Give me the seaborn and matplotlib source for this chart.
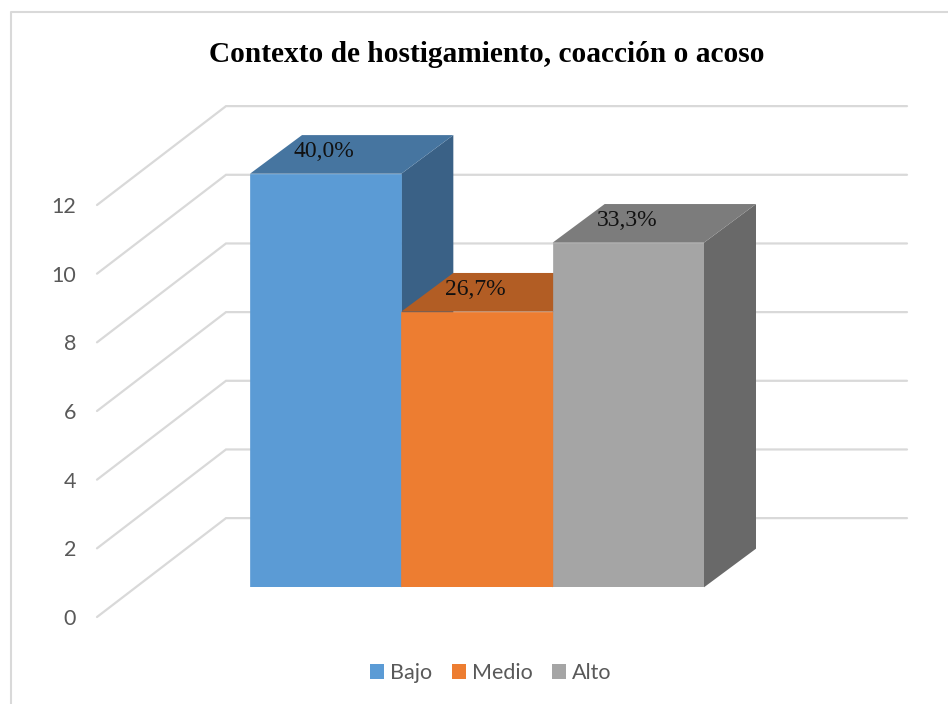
import matplotlib
matplotlib.use("Agg")
import matplotlib.pyplot as plt
from matplotlib.lines import Line2D
from matplotlib.patches import Patch
import seaborn as sns

W, H = 948, 704

title = "Contexto de hostigamiento, coacción o acoso"
categories = ["Bajo", "Medio", "Alto"]
counts = [12, 8, 10]
value_labels = ["40,0%", "26,7%", "33,3%"]
y_ticks = [0, 2, 4, 6, 8, 10, 12]

front_colors = ["#5B9BD5", "#ED7D31", "#A5A5A5"]
top_colors = ["#4675A0", "#B25D24", "#7C7C7C"]
side_colors = ["#3A6186", "#8F4B1D", "#696969"]
grid_color = "#D9D9D9"
text_grey = "#595959"


def box(left, top, right, bottom):
    return [left / W, 1 - bottom / H, (right - left) / W, (bottom - top) / H]


sns.set_theme(style="white")
plt.rcParams["font.family"] = ["Lato", "DejaVu Sans"]

fig = plt.figure(figsize=(W / 100, H / 100), dpi=100, facecolor="white")

# Chart frame (top and left edges are inside the canvas)
fig.add_artist(Line2D([10.5 / W, 10.5 / W, 1.0], [0, 1 - 12 / H, 1 - 12 / H],
                      transform=fig.transFigure, color=grid_color, lw=1.5))

# Wall and floor gridlines, with the value axis
ax_wall = fig.add_axes(box(97, 205, 907, 617))
ax_wall.set_xlim(0, 810)
ax_wall.set_ylim(0, 12)
ax_wall.patch.set_alpha(0)
for v in y_ticks:
    ax_wall.plot([0, 129, 810], [v, v + 2.88, v + 2.88], color=grid_color,
                 lw=1.6, clip_on=False, solid_joinstyle="miter")
ax_wall.set_xticks([])
ax_wall.set_yticks(y_ticks)
ax_wall.tick_params(axis="y", length=0, pad=15, labelsize=15.5, labelcolor=text_grey)
sns.despine(ax=ax_wall, left=True, bottom=True)

# Front faces
ax = fig.add_axes(box(250, 173.7, 704, 587.3))
ax.patch.set_alpha(0)
sns.barplot(x=categories, y=counts, hue=categories, palette=front_colors,
            saturation=1, width=1, legend=False, ax=ax)
ax.set_xlim(-0.5, 2.5)
ax.set_ylim(0, 12)
ax.set_axis_off()

# Oblique depth faces derived from each bar
depth_x = 52 / (454 / 3)
depth_y = 38.6 / (413.6 / 12)
for i, bar in enumerate(ax.patches):
    x0, x1 = bar.get_x(), bar.get_x() + bar.get_width()
    h = bar.get_height()
    z = 3 + i
    bar.set_zorder(z + 0.5)
    bar.set_edgecolor(front_colors[i])
    bar.set_linewidth(0.5)
    ax.fill([x1, x1 + depth_x, x1 + depth_x, x1], [0, depth_y, h + depth_y, h],
            color=side_colors[i], lw=0, zorder=z, clip_on=False)
    ax.fill([x0, x1, x1 + depth_x, x0 + depth_x], [h, h, h + depth_y, h + depth_y],
            color=top_colors[i], lw=0, zorder=z, clip_on=False)
    ax.annotate(value_labels[i], (i, h), xytext=(-1.1, 16), textcoords="offset points",
                ha="center", va="center", family="Liberation Serif", fontsize=17,
                color="#111111", zorder=10, annotation_clip=False)

fig.suptitle(title, x=487 / W, y=1 - 55 / H, ha="center", va="center",
             family="Liberation Serif", fontweight="bold", fontsize=21.2, color="black")

handles = [Patch(facecolor=c, edgecolor="none", label=n)
           for c, n in zip(front_colors, categories)]
fig.legend(handles=handles, loc="center", bbox_to_anchor=(491 / W, 1 - 673 / H),
           ncol=3, frameon=False, fontsize=15.5, labelcolor=text_grey,
           handlelength=0.65, handleheight=0.65, handletextpad=0.29,
           columnspacing=0.9, borderpad=0, borderaxespad=0)

fig.savefig("out.png", dpi=100, facecolor="white")
